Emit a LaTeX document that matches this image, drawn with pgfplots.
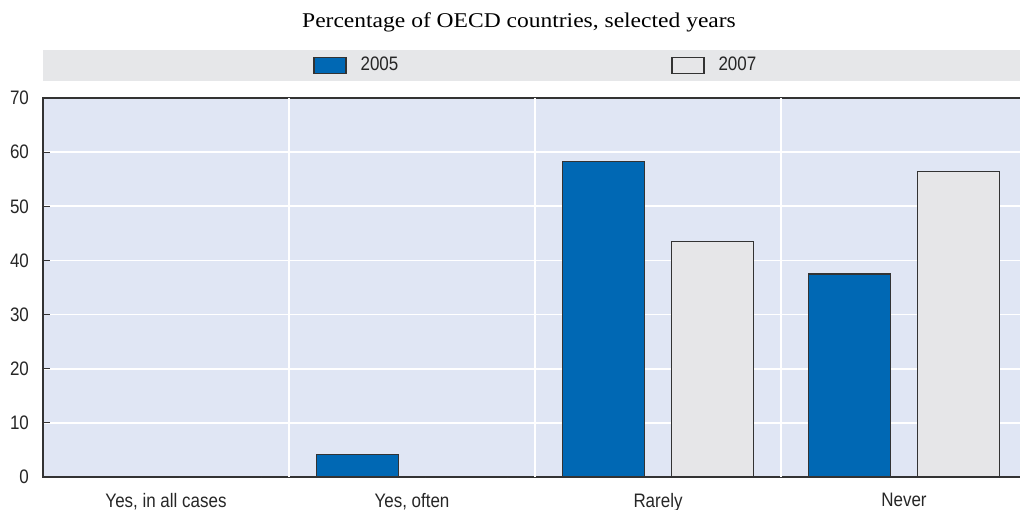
\documentclass[border=0pt]{standalone}
\usepackage{pgfplots}
\pgfplotsset{compat=1.18}
\usepackage{fontspec}
\setmainfont{Liberation Sans}[FakeStretch=0.87]
\newfontfamily\subfont{Liberation Serif}[FakeStretch=1.12]
\definecolor{oecdblue}{RGB}{0,104,180}
\definecolor{bargray}{RGB}{230,230,232}
\definecolor{bgblue}{RGB}{224,230,244}
\definecolor{bandgray}{RGB}{230,231,233}
\definecolor{axisdark}{RGB}{51,51,51}
\begin{document}
\begin{tikzpicture}
\useasboundingbox (0,0) rectangle (510pt,254.5pt);
\node[font=\subfont\fontsize{10.5}{12}\selectfont, anchor=base] at (259.5pt,240.9pt) {Percentage of OECD countries, selected years};
\begin{axis}[
  at={(21.5pt,16pt)}, anchor=south west,
  scale only axis, width=492pt, height=189.5pt,
  xmin=-0.5, xmax=3.5, ymin=0, ymax=70,
  ybar=13.5pt, bar width=41pt,
  axis background/.style={fill=bgblue},
  axis line style={axisdark, line width=0.8pt},
  xtick={0,1,2,3},
  xticklabels={{Yes, in all cases},{Yes, often},Rarely,Never},
  major x tick style={draw=none},
  extra x ticks={0.5,1.5,2.5}, extra x tick labels={},
  extra x tick style={grid=major, major grid style={white, line width=0.8pt}, tick style={draw=gray, line width=0.6pt}, major tick length=3.5pt, tick align=inside},
  ytick={0,10,...,70},
  ymajorgrids, major grid style={white, line width=0.8pt},
  tick align=inside, major tick length=3.5pt,
  ytick style={axisdark, line width=0.6pt},
  /pgf/number format/assume math mode=true,
  ticklabel style={font=\fontsize{9.75}{11}\selectfont, text=black!85},
  yticklabel style={xshift=-3.5pt},
  xticklabel style={yshift=-4.5pt},
  clip=false,
  legend columns=2,
  legend style={at={(0.2744,1.0858)}, anchor=west, draw=none, fill=none, inner sep=0pt,
    font=\fontsize{9.75}{11}\selectfont, text=black!85,
    /tikz/every odd column/.append style={column sep=5pt},
    /tikz/every even column/.append style={column sep=134.5pt}},
  legend image code/.code={\draw[#1, line width=0.6pt] (0pt,-4pt) rectangle (16pt,4pt);},
]
\fill[bandgray] (rel axis cs:0,1.0449) rectangle (rel axis cs:1.02,1.1266);
\addplot[fill=oecdblue, draw=axisdark, line width=0.6pt] coordinates {(0,0) (1,4.2) (2,58.3) (3,37.5)};
\addplot[fill=bargray, draw=axisdark, line width=0.6pt] coordinates {(0,0) (1,0) (2,43.5) (3,56.5)};
\legend{2005,2007}
\end{axis}
\end{tikzpicture}
\end{document}
